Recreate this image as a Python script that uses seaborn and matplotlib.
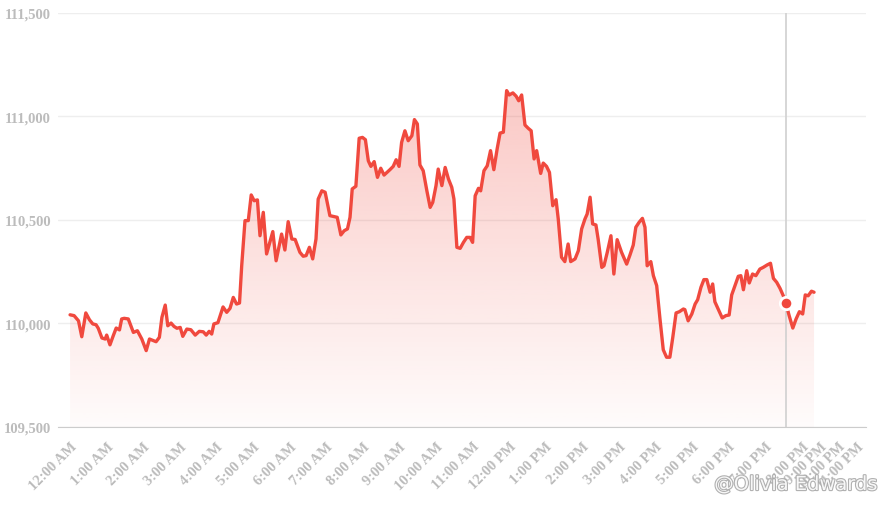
import numpy as np
import pandas as pd
import matplotlib
matplotlib.use("Agg")
import matplotlib.pyplot as plt
import matplotlib.patheffects as pe
import seaborn as sns

# Intraday price readings (hours since midnight, price)
hours = [
    0.00, 0.11, 0.23, 0.32, 0.43, 0.53, 0.62, 0.71, 0.77, 0.87, 0.96, 1.00,
    1.09, 1.18, 1.26, 1.35, 1.41, 1.48, 1.59, 1.73, 1.84, 1.96, 2.08, 2.17,
    2.28, 2.35, 2.44, 2.51, 2.60, 2.67, 2.76, 2.84, 2.92, 3.01, 3.08, 3.19,
    3.30, 3.42, 3.53, 3.64, 3.72, 3.80, 3.87, 3.93, 4.04, 4.18, 4.28, 4.37,
    4.46, 4.55, 4.63, 4.69, 4.78, 4.87, 4.95, 5.03, 5.12, 5.19, 5.28, 5.37,
    5.54, 5.63, 5.78, 5.87, 5.96, 6.06, 6.15, 6.28, 6.37, 6.45, 6.54, 6.63,
    6.72, 6.78, 6.88, 6.97, 7.10, 7.18, 7.30, 7.40, 7.49, 7.58, 7.65, 7.71,
    7.81, 7.90, 7.99, 8.07, 8.15, 8.22, 8.31, 8.40, 8.49, 8.58, 8.74, 8.83,
    8.91, 8.99, 9.06, 9.15, 9.24, 9.34, 9.41, 9.49, 9.56, 9.65, 9.75, 9.84,
    9.91, 10.00, 10.06, 10.16, 10.25, 10.34, 10.43, 10.49, 10.57, 10.66, 10.75, 10.84,
    10.93, 11.00, 11.07, 11.16, 11.22, 11.31, 11.40, 11.49, 11.58, 11.67, 11.75, 11.84,
    11.93, 12.00, 12.10, 12.19, 12.26, 12.34, 12.43, 12.52, 12.60, 12.68, 12.75, 12.86,
    12.93, 13.02, 13.10, 13.19, 13.28, 13.34, 13.43, 13.52, 13.61, 13.68, 13.80, 13.89,
    13.98, 14.07, 14.13, 14.21, 14.28, 14.37, 14.43, 14.53, 14.59, 14.68, 14.78, 14.86,
    14.95, 15.07, 15.21, 15.30, 15.39, 15.46, 15.55, 15.64, 15.71, 15.77, 15.87, 15.94,
    16.03, 16.12, 16.21, 16.30, 16.39, 16.47, 16.56, 16.65, 16.76, 16.80, 16.89, 16.99,
    17.08, 17.15, 17.24, 17.32, 17.40, 17.49, 17.56, 17.62, 17.71, 17.82, 17.92, 18.01,
    18.08, 18.17, 18.26, 18.33, 18.40, 18.49, 18.56, 18.65, 18.74, 18.85, 18.94, 19.05,
    19.14, 19.22, 19.31, 19.40, 19.49, 19.56, 19.65, 19.75, 19.84, 19.93, 20.02, 20.09,
    20.17, 20.26, 20.33,
]
prices = [
    110042, 110038, 110013, 109936, 110051, 110018, 109998, 109994, 109977, 109930, 109925, 109944,
    109897, 109941, 109978, 109969, 110022, 110025, 110022, 109957, 109965, 109925, 109869, 109925,
    109917, 109912, 109933, 110030, 110089, 109989, 110002, 109986, 109977, 109981, 109938, 109973,
    109970, 109944, 109962, 109960, 109944, 109962, 109949, 109998, 110004, 110080, 110054, 110073,
    110126, 110094, 110099, 110279, 110497, 110497, 110621, 110593, 110597, 110424, 110537, 110336,
    110444, 110303, 110432, 110355, 110492, 110408, 110406, 110344, 110325, 110328, 110368, 110312,
    110408, 110601, 110641, 110634, 110521, 110518, 110513, 110428, 110448, 110457, 110513, 110650,
    110663, 110895, 110899, 110888, 110786, 110759, 110782, 110706, 110750, 110717, 110743, 110759,
    110791, 110759, 110875, 110931, 110883, 110907, 110985, 110964, 110766, 110738, 110641, 110561,
    110585, 110666, 110746, 110666, 110754, 110698, 110658, 110601, 110368, 110363, 110392, 110416,
    110416, 110392, 110617, 110653, 110641, 110738, 110762, 110835, 110743, 110843, 110920, 110924,
    111125, 111104, 111114, 111098, 111076, 111104, 110959, 110943, 110931, 110795, 110835, 110725,
    110775, 110759, 110730, 110569, 110598, 110505, 110320, 110299, 110384, 110299, 110312, 110352,
    110457, 110505, 110529, 110610, 110481, 110476, 110408, 110271, 110279, 110344, 110424, 110239,
    110405, 110344, 110287, 110331, 110379, 110465, 110489, 110508, 110465, 110279, 110299, 110231,
    110183, 110022, 109873, 109837, 109837, 109933, 110051, 110057, 110070, 110067, 110013, 110046,
    110094, 110115, 110175, 110212, 110212, 110151, 110191, 110105, 110070, 110027, 110038, 110041,
    110138, 110183, 110228, 110231, 110163, 110255, 110196, 110239, 110231, 110263, 110271, 110283,
    110291, 110218, 110199, 110170, 110134, 110098, 110038, 109978, 110022, 110057, 110046, 110138,
    110134, 110156, 110151,
]

# Hovered point
hover_hour = 19.56
hover_price = 110098

tick_hours = list(range(20)) + [20.0, 20.5, 21.0, 21.5]
tick_labels = ["12:00 AM"] + [f"{h}:00 AM" for h in range(1, 12)] + ["12:00 PM"] + \
    [f"{h}:00 PM" for h in range(1, 12)]
y_ticks = [109500, 110000, 110500, 111000, 111500]

LINE = "#f0493e"
GREY = "#bcbcbc"

df = pd.DataFrame({"hour": hours, "price": prices})

sns.set_style("white")
plt.rcParams["font.family"] = ["Liberation Serif", "DejaVu Serif"]

fig = plt.figure(figsize=(8.86, 5.10), dpi=100)
ax = fig.add_axes([58 / 886, 1 - 428 / 510, (866 - 58) / 886, (428 - 14) / 510])

ymin, ymax = 109500, 111500
xmin, xmax = -0.33, 21.75

# Gradient area under the line
poly = ax.fill_between(df["hour"], df["price"], ymin, color="none", lw=0)
grad = np.zeros((256, 1, 4))
grad[:, 0, :3] = matplotlib.colors.to_rgb(LINE)
grad[:, 0, 3] = np.linspace(0.30, 0.02, 256)
top = max(prices)
im = ax.imshow(grad, extent=[xmin, xmax, ymin, top], origin="upper",
               aspect="auto", zorder=1)
im.set_clip_path(poly.get_paths()[0], transform=ax.transData)

sns.lineplot(data=df, x="hour", y="price", ax=ax, color=LINE, lw=2.4,
             zorder=3, estimator=None)

# Crosshair and hovered marker
ax.axvline(hover_hour, color="#d0d0d0", lw=1.2, zorder=2)
ax.scatter([hover_hour], [hover_price], s=80, color=LINE, edgecolor="white",
           linewidth=2, zorder=4)

ax.set_xlim(xmin, xmax)
ax.set_ylim(ymin, ymax)
ax.set_yticks(y_ticks)
ax.set_yticklabels([f"{v:,}" for v in y_ticks])
ax.set_xticks(tick_hours)
ax.set_xticklabels(tick_labels, rotation=45, ha="right", rotation_mode="anchor")
ax.tick_params(axis="y", length=0, pad=5, labelsize=10.5, labelcolor=GREY)
ax.tick_params(axis="x", length=0, pad=9, labelsize=10.5, labelcolor=GREY)
for lab in ax.get_xticklabels() + ax.get_yticklabels():
    lab.set_fontweight("bold")

ax.grid(axis="y", color="#eeeeee", lw=1)
ax.set_axisbelow(True)
for s in ["left", "right", "top"]:
    ax.spines[s].set_visible(False)
ax.spines["bottom"].set_color("#cccccc")
ax.set_xlabel("")
ax.set_ylabel("")

# Watermark
fig.text(0.991, 0.048, "@Olivia Edwards", ha="right", va="center", fontsize=14,
         family=["DejaVu Sans"], color="white", alpha=0.9,
         path_effects=[pe.withStroke(linewidth=1.6, foreground="#a8a8a8")])

fig.savefig("out.png", dpi=100)
